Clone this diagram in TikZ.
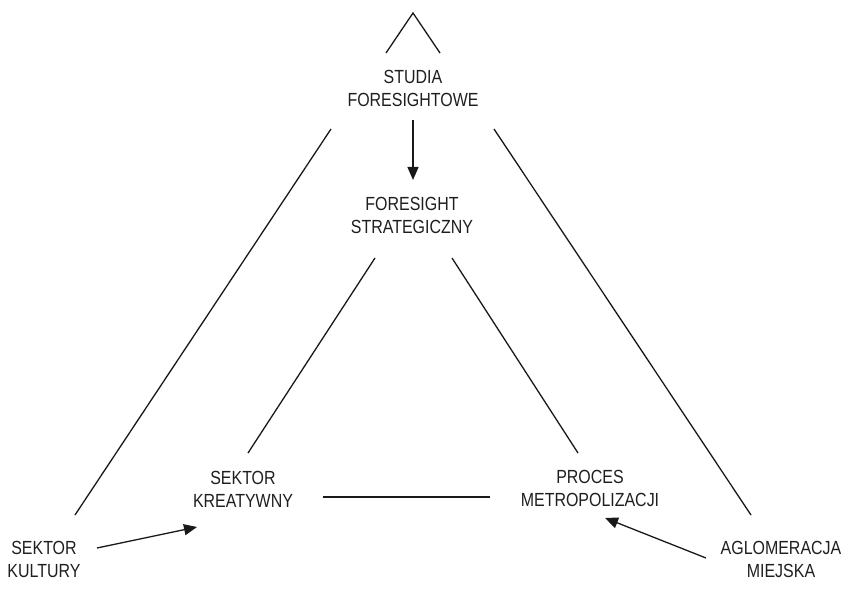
\documentclass[tikz,border=0pt]{standalone}
\usepackage{fontspec}
\setmainfont{Liberation Sans}[FakeStretch=0.84]
\usetikzlibrary{arrows.meta}
\begin{document}
\begin{tikzpicture}[x=1pt,y=-1pt,
  lbl/.style={align=center,inner sep=0pt,font=\fontsize{19}{23}\selectfont,text=black!88},
  link/.style={line width=1.3pt,black!90},
  flow/.style={link,-{Triangle[length=13pt,width=11pt]}}]
\useasboundingbox (0,0) rectangle (841,593);

% labels
\node[lbl] (studia) at (413,88)  {STUDIA\\FORESIGHTOWE};
\node[lbl] (fstrat) at (412,215) {FORESIGHT\\STRATEGICZNY};
\node[lbl] (kreat)  at (243,489) {SEKTOR\\KREATYWNY};
\node[lbl] (metro)  at (590,488) {PROCES\\METROPOLIZACJI};
\node[lbl] (kult)   at (44,559)  {SEKTOR\\KULTURY};
\node[lbl] (aglo)   at (781,559) {AGLOMERACJA\\MIEJSKA};

% roof over the top label
\coordinate (roofL) at (386,53);
\coordinate (roofT) at (413,13);
\coordinate (roofR) at (440,53);
\draw[link] (roofL) -- (roofT) -- (roofR);

% connector end points
\coordinate (sTop)  at (413,120);
\coordinate (fTop)  at (413,180);
\coordinate (bigLa) at (331,129);
\coordinate (bigLb) at (75,515);
\coordinate (bigRa) at (494,129);
\coordinate (bigRb) at (751,515);
\coordinate (inLa)  at (375,258);
\coordinate (inLb)  at (248,453);
\coordinate (inRa)  at (452,258);
\coordinate (inRb)  at (578,453);
\coordinate (midL)  at (323,497);
\coordinate (midR)  at (490,497);
\coordinate (kultA) at (97,548);
\coordinate (kreatB) at (197,527);
\coordinate (agloA) at (706,558);
\coordinate (metroB) at (605,518);

% outer triangle
\draw[link] (bigLa) -- (bigLb);
\draw[link] (bigRa) -- (bigRb);
% inner triangle
\draw[link] (inLa) -- (inLb);
\draw[link] (inRa) -- (inRb);
\draw[link] (midL) -- (midR);
% arrows
\draw[flow] (sTop) -- (fTop);
\draw[flow] (kultA) -- (kreatB);
\draw[flow] (agloA) -- (metroB);
\end{tikzpicture}
\end{document}
